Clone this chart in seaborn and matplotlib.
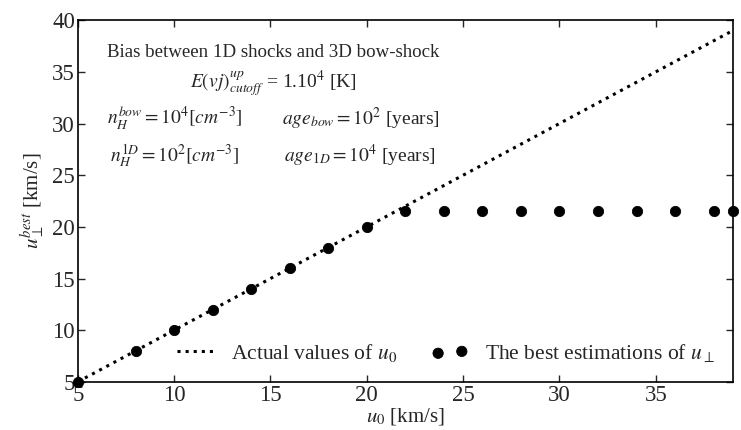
import matplotlib
matplotlib.use("Agg")
import matplotlib.pyplot as plt
import seaborn as sns
import pandas as pd

# data
line_x = [5, 39]
line_y = [5, 39]
pts_x = [5, 8, 10, 12, 14, 16, 18, 20, 22, 24, 26, 28, 30, 32, 34, 36, 38, 39]
pts_y = [5, 8, 10, 12, 14, 16, 18, 20, 21.5, 21.5, 21.5, 21.5, 21.5, 21.5, 21.5, 21.5, 21.5, 21.5]
x_ticks = [5, 10, 15, 20, 25, 30, 35]
y_ticks = [5, 10, 15, 20, 25, 30, 35, 40]

sns.set_style("ticks")
plt.rcParams['font.family'] = ['Liberation Serif', 'DejaVu Serif']
plt.rcParams['mathtext.fontset'] = 'stix'

fig = plt.figure(figsize=(7.41, 4.30), dpi=100)
ax = fig.add_axes([0.105, 0.112, 0.884, 0.841])

df_line = pd.DataFrame({"x": line_x, "y": line_y})
df_pts = pd.DataFrame({"x": pts_x, "y": pts_y})

sns.lineplot(data=df_line, x="x", y="y", ax=ax, color="black", linestyle=":",
             linewidth=2.2, label="Actual values of $u_0$")
sns.scatterplot(data=df_pts, x="x", y="y", ax=ax, color="black", s=55,
                edgecolor="black", label="The best estimations of $u_\\perp$",
                clip_on=False, zorder=5)

ax.set_xlim(5, 39)
ax.set_ylim(5, 40)
ax.set_xticks(x_ticks)
ax.set_yticks(y_ticks)
ax.tick_params(direction="in", top=True, right=True, labelsize=16.5, length=5, width=1, pad=2)
for s in ax.spines.values():
    s.set_linewidth(1.2)
    s.set_color("black")

ax.set_xlabel("$u_0$ [km/s]", fontsize=15, labelpad=0)
ax.set_ylabel("$u_\\perp^{best}$ [km/s]", fontsize=15, labelpad=4)

tx = dict(transform=ax.transAxes, fontsize=14, va="baseline")
ax.text(0.044, 0.898, "Bias between 1D shocks and 3D bow-shock", ha="left",
        transform=ax.transAxes, fontsize=13.6, va="baseline")
ax.text(0.298, 0.812, "$E(vj)^{up}_{cutoff}$ = 1.10$^4$ [K]", ha="center", **tx)
ax.text(0.044, 0.710, "$n_H^{bow} = 10^4[cm^{-3}]$", ha="left", **tx)
ax.text(0.311, 0.710, "$age_{bow} = 10^2$ [years]", ha="left", **tx)
ax.text(0.049, 0.608, "$n_H^{1D} = 10^2[cm^{-3}]$", ha="left", **tx)
ax.text(0.315, 0.608, "$age_{1D} = 10^4$ [years]", ha="left", **tx)

ax.legend(loc="center right", bbox_to_anchor=(1.003, 0.08), ncol=2, frameon=False,
          fontsize=15.5, scatterpoints=2, handlelength=1.7, columnspacing=1.6,
          handletextpad=0.8)

fig.savefig("out.png", dpi=100)
